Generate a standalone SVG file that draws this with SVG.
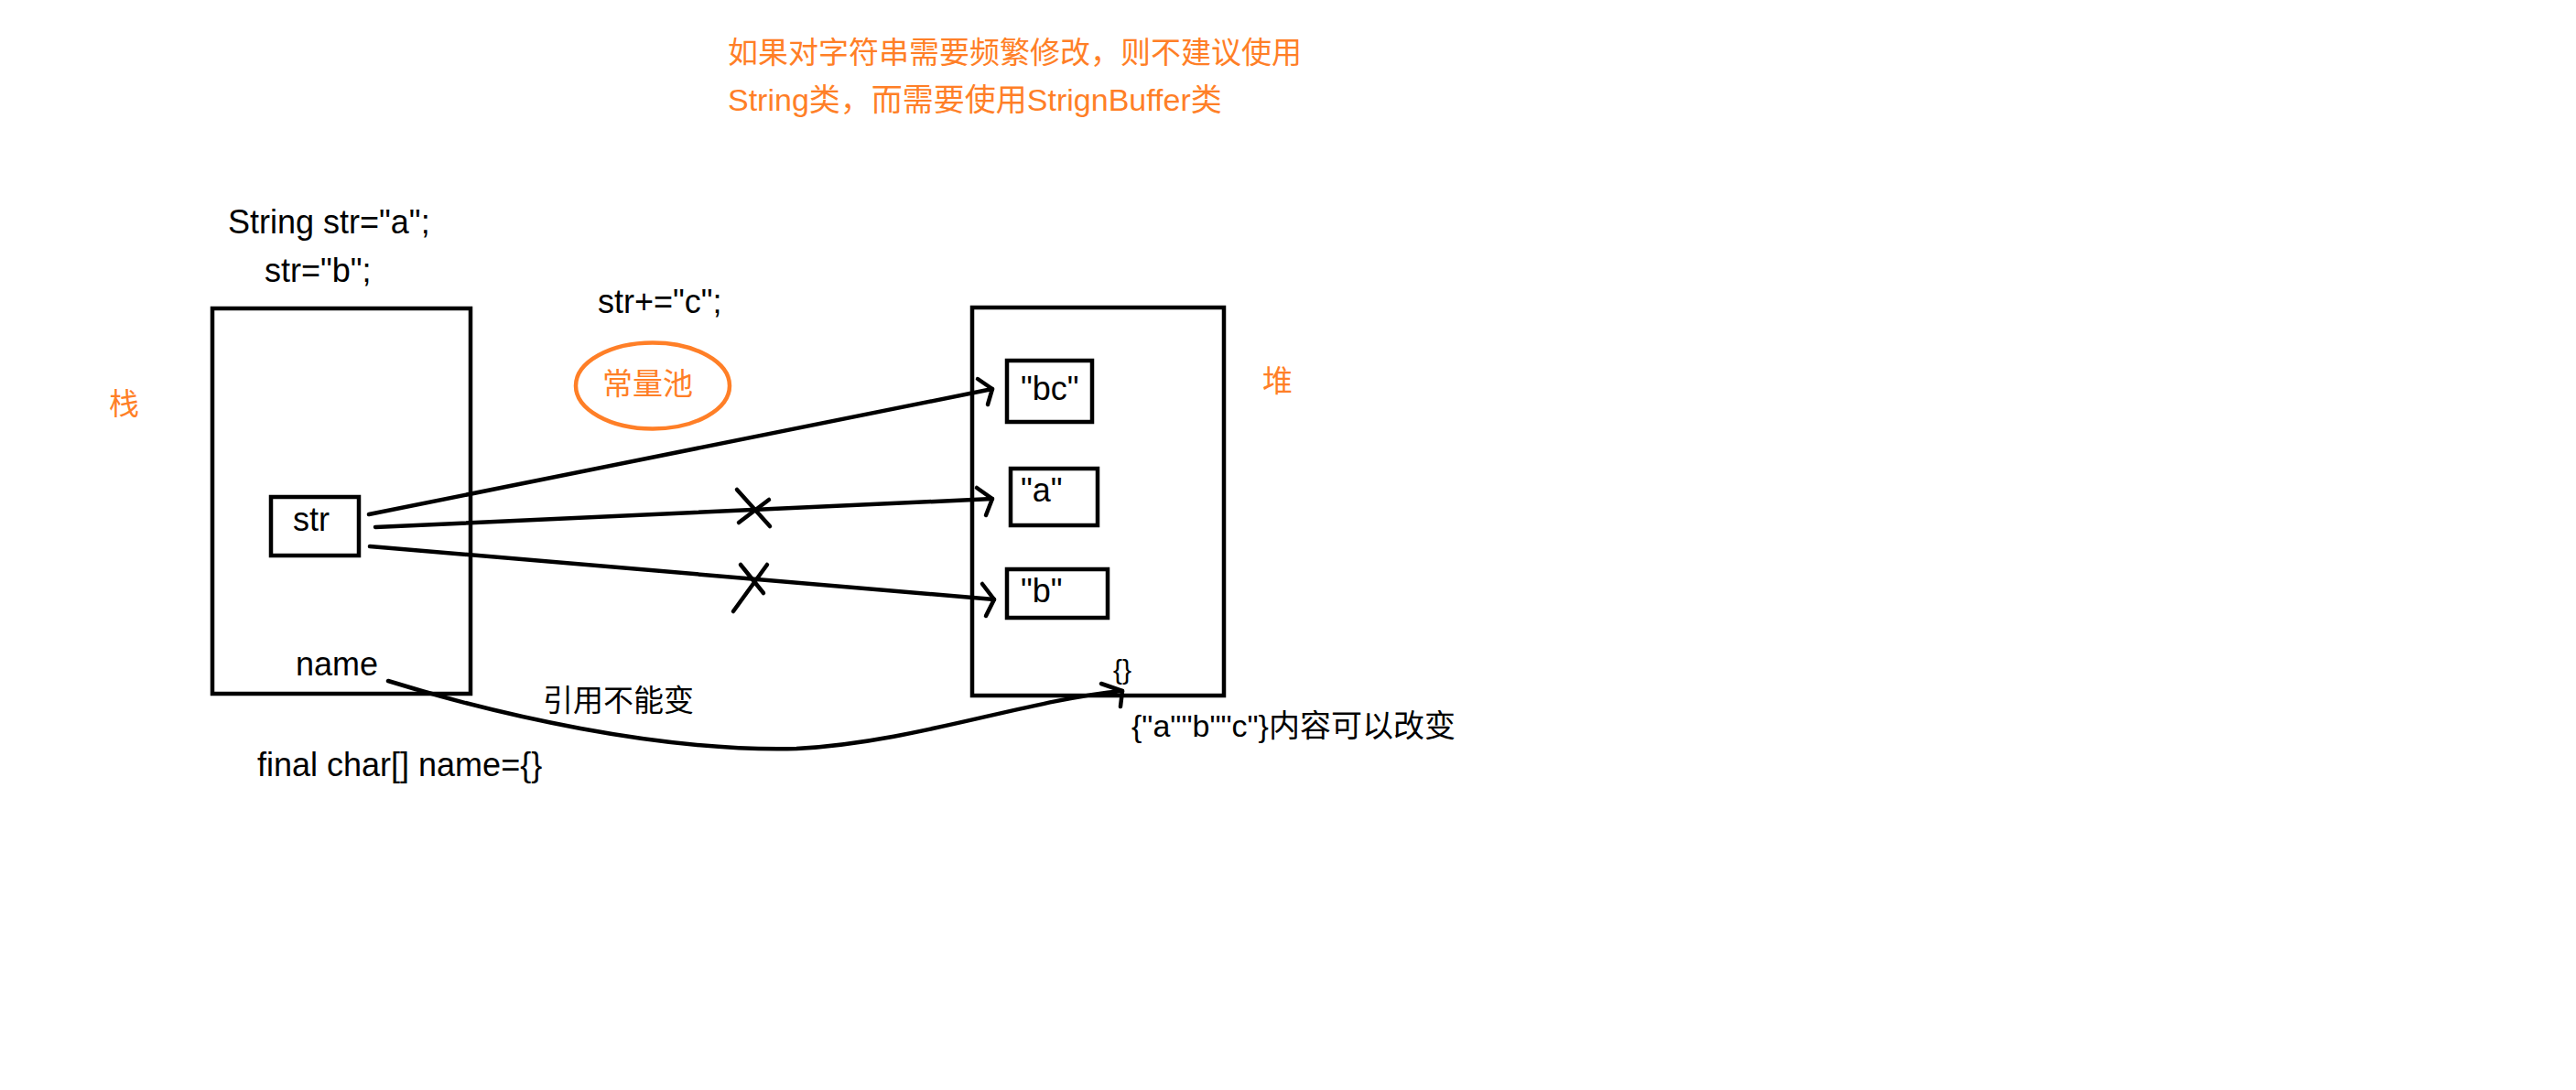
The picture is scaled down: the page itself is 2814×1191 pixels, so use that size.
<svg xmlns="http://www.w3.org/2000/svg" width="2814" height="1191" viewBox="0 0 2814 1191">
<style>
.box{fill:none;stroke:#000;stroke-width:4.5}
.ln{fill:none;stroke:#000;stroke-width:4.5;stroke-linecap:round;stroke-linejoin:round}
.t{font-family:"Liberation Sans","Noto Sans CJK SC",sans-serif;font-size:36px;fill:#000}
.cjk{font-family:"Noto Sans CJK SC","Liberation Sans",sans-serif;font-size:33px}
.or{fill:#FF7F27}
</style>
<rect width="2814" height="1191" fill="#fff"/>
<g id="note">
<text class="t or" x="795" y="69" style="font-size:33px">如果对字符串需要频繁修改，则不建议使用</text>
<text class="t or" x="795" y="121" style="font-size:34px">String类，而需要使用StrignBuffer类</text>
</g>
<g id="code">
<text class="t" x="249" y="255">String str="a";</text>
<text class="t" x="289" y="308">str="b";</text>
<text class="t" x="653" y="342">str+="c";</text>
<text class="t" x="281" y="848">final char[] name={}</text>
</g>
<g id="stack">
<rect class="box" x="232" y="337" width="282" height="421"/>
<text class="t cjk or" x="119" y="453">栈</text>
<text class="t" x="323" y="738">name</text>
</g>
<g id="str">
<rect class="box" x="296" y="543" width="96" height="64"/>
<text class="t" x="320" y="580">str</text>
</g>
<g id="pool">
<ellipse cx="713" cy="421.5" rx="84" ry="47" fill="none" stroke="#FF7F27" stroke-width="4.5"/>
<text class="t cjk or" x="658" y="431">常量池</text>
</g>
<g id="heap">
<rect class="box" x="1062" y="336" width="275" height="424"/>
<text class="t cjk or" x="1379" y="428">堆</text>
<text class="t" x="1216" y="742" style="font-size:30px">{}</text>
<text class="t" x="1236" y="805" style="font-size:34px">{"a""b""c"}内容可以改变</text>
</g>
<g id="bc">
<rect class="box" x="1100" y="394" width="93" height="67"/>
<text class="t" x="1115" y="437">"bc"</text>
</g>
<g id="a">
<rect class="box" x="1104" y="512" width="95" height="62"/>
<text class="t" x="1115" y="548">"a"</text>
</g>
<g id="b">
<rect class="box" x="1100" y="622" width="110" height="53"/>
<text class="t" x="1115" y="658">"b"</text>
</g>
<g id="connectors">
<path class="ln" d="M403,562 L1084,425"/>
<polyline class="ln" points="1068,414 1084,425 1079,442"/>
<path class="ln" d="M410,576 L1084,545"/>
<polyline class="ln" points="1067,533 1084,545 1077,563"/>
<path class="ln" d="M805,535 L841,575 M807,571 L840,546"/>
<path class="ln" d="M404,597 L1086,655"/>
<polyline class="ln" points="1073,638 1086,655 1077,673"/>
<path class="ln" d="M801,668 L838,617 M809,617 L834,648"/>
<path class="ln" d="M424,744 C540,780 720,822 870,818 C1000,811 1120,765 1226,755"/>
<polyline class="ln" points="1203,747 1226,755 1224,772"/>
<text class="t cjk" x="593" y="777">引用不能变</text>
</g>
</svg>
